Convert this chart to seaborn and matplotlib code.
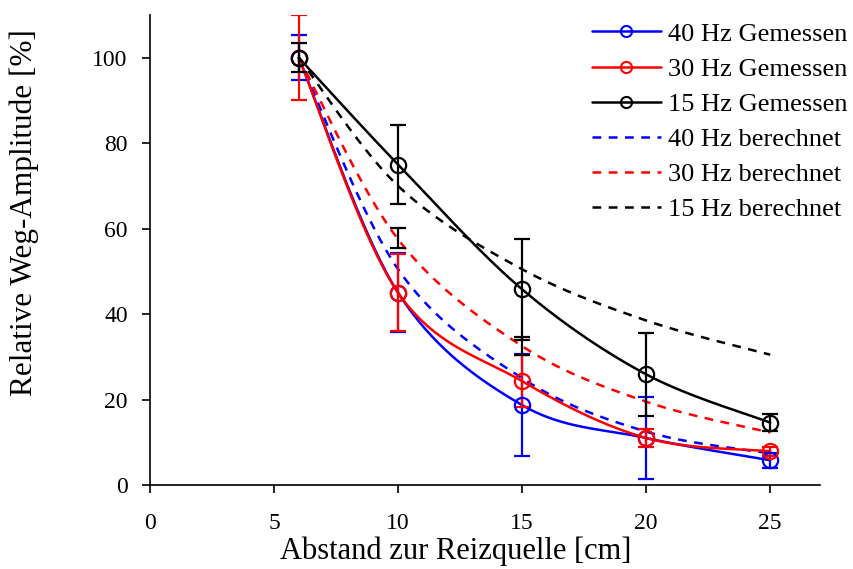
import numpy as np
import pandas as pd
import seaborn as sns
import matplotlib
matplotlib.use("Agg")
from matplotlib import pyplot as plt
from matplotlib.lines import Line2D

# distance to the stimulus source [cm]
distance = [6, 10, 15, 20, 25]

# measured relative amplitude [%] and error
meas_40 = [100, 45, 18.7, 11, 5.8]
meas_30 = [100, 45, 24.3, 11, 7.9]
meas_15 = [100, 75, 45.8, 25.9, 14.6]
err_40 = [5.3, 9.2, 12, 9.7, 1.8]
err_30 = [10, 9, 6.1, 2, 1]
err_15 = [3.4, 9.3, 11.8, 9.7, 2]

# extra black error segments (as in the original figure)
extra_x = [10, 15]
extra_lo = [55.4, 30.4]
extra_hi = [60.1, 34.6]

# calculated relative amplitude [%]
calc_40 = [100, 50.5, 25, 12.5, 7.4]
calc_30 = [100, 57.5, 32.5, 19.5, 12.3]
calc_15 = [100, 70, 50.5, 38.5, 30.5]

labels_meas = ["40 Hz Gemessen", "30 Hz Gemessen", "15 Hz Gemessen"]
labels_calc = ["40 Hz berechnet", "30 Hz berechnet", "15 Hz berechnet"]
colors = ["#0000ff", "#ff0000", "#000000"]


def smooth(x, y, n=40):
    # spreadsheet-style smoothed line (cubic Bezier through the points)
    pts = np.column_stack([x, y]).astype(float)
    pad = np.vstack([pts[0], pts, pts[-1]])
    t = np.linspace(0, 1, n)[:, None]
    out = []
    for i in range(len(pts) - 1):
        p0, p1, p2, p3 = pad[i], pad[i + 1], pad[i + 2], pad[i + 3]
        c1 = p1 + (p2 - p0) / 6
        c2 = p2 - (p3 - p1) / 6
        seg = (1 - t) ** 3 * p1 + 3 * (1 - t) ** 2 * t * c1 + 3 * (1 - t) * t ** 2 * c2 + t ** 3 * p2
        out.append(seg if i == 0 else seg[1:])
    return np.vstack(out)


sns.set_theme(style="ticks")
plt.rcParams['font.family'] = ['Liberation Serif', 'DejaVu Serif']
plt.rcParams['text.color'] = 'black'
plt.rcParams['axes.labelcolor'] = 'black'
plt.rcParams['xtick.color'] = 'black'
plt.rcParams['ytick.color'] = 'black'

fig = plt.figure(figsize=(8.54, 5.69), dpi=100)
ax = fig.add_axes([0.1756, 0.1476, 0.7844, 0.826])

# calculated curves (dashed)
for vals, col in zip([calc_40, calc_30, calc_15], colors):
    c = smooth(distance, vals)
    df = pd.DataFrame({"x": c[:, 0], "y": c[:, 1]})
    sns.lineplot(data=df, x="x", y="y", ax=ax, color=col, lw=1.8,
                 linestyle=(0, (3.5, 3)), sort=False, estimator=None, zorder=2)

# measured curves
for vals, err, col in zip([meas_40, meas_30, meas_15], [err_40, err_30, err_15], colors):
    c = smooth(distance, vals)
    df = pd.DataFrame({"x": c[:, 0], "y": c[:, 1]})
    sns.lineplot(data=df, x="x", y="y", ax=ax, color=col, lw=1.8,
                 sort=False, estimator=None, zorder=3)
    ax.errorbar(distance, vals, yerr=err, fmt='none', ecolor=col,
                elinewidth=1.6, capsize=6, capthick=1.6, zorder=4)
    ax.plot(distance, vals, 'o', ms=11, mfc='none', mec=col, mew=1.6, zorder=5)

ax.errorbar(extra_x, [(a + b) / 2 for a, b in zip(extra_lo, extra_hi)],
            yerr=[(b - a) / 2 for a, b in zip(extra_lo, extra_hi)],
            fmt='none', ecolor='black', elinewidth=1.6, capsize=6, capthick=1.6, zorder=4)

ax.set_xlim(0, 27)
ax.set_ylim(0, 110)
ax.set_xticks([0, 5, 10, 15, 20, 25])
ax.set_yticks([0, 20, 40, 60, 80, 100])
ax.set_xlabel("Abstand zur Reizquelle [cm]", fontsize=22)
ax.set_ylabel("Relative Weg-Amplitude [%]", fontsize=22.5)
ax.xaxis.set_label_coords(0.457, -0.11)
ax.yaxis.set_label_coords(-0.165, 0.58)
ax.tick_params(axis='both', labelsize=17, length=6, width=1.2, pad=10, direction='out',
               color='black', labelcolor='black')
ax.tick_params(axis='x', pad=14)
sns.despine(ax=ax)
for s in ['left', 'bottom']:
    ax.spines[s].set_linewidth(1.2)
    ax.spines[s].set_color('black')

handles = []
for lab, col in zip(labels_meas, colors):
    handles.append(Line2D([], [], color=col, lw=1.8, marker='o', ms=8, mfc='none', mew=1.5, label=lab))
for lab, col in zip(labels_calc, colors):
    handles.append(Line2D([], [], color=col, lw=1.8, linestyle=(0, (3.5, 3)), label=lab))
ax.legend(handles=handles, loc='upper left', bbox_to_anchor=(0.6932, 0.961),
          bbox_transform=fig.transFigure, frameon=False, fontsize=19,
          handlelength=2.6, handletextpad=0.27, labelspacing=0.44,
          borderaxespad=0, borderpad=0, labelcolor='black')

fig.savefig("out.png", dpi=100)
